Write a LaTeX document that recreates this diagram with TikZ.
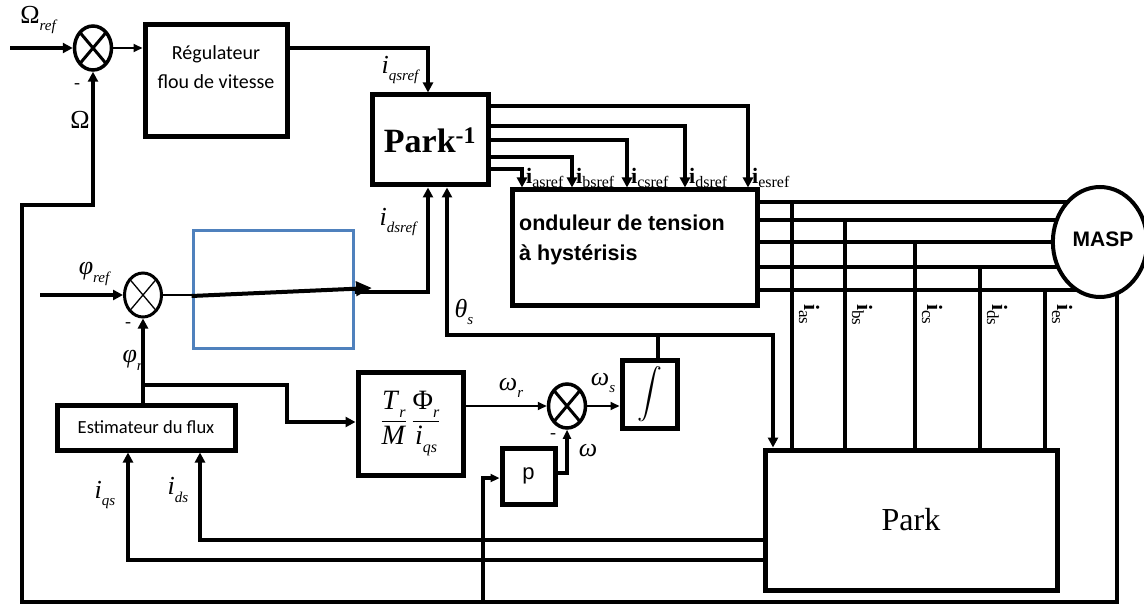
\documentclass[tikz,border=0pt]{standalone}
\usepackage{amsmath}
\usepackage{fontspec}
\setmainfont{Liberation Serif}
\newfontfamily\arialf{Liberation Sans}
\newfontfamily\calf{Carlito}
\usetikzlibrary{arrows.meta,shapes.geometric,backgrounds}
\definecolor{bluebox}{RGB}{79,129,189}
\newcommand\fs[1]{\fontsize{#1}{#1}\selectfont}
\newcommand\lab[2]{\textit{#1}\raisebox{-0.3em}{\fs{15}\itshape #2}}
\newcommand\refi[1]{\textbf{i}\raisebox{-0.22em}{\fs{16}#1}}
\begin{document}
\begin{tikzpicture}[x=1pt,y=-1pt,
  thk/.style={line width=4pt},
  thn/.style={line width=2pt},
  tip/.style={-{Triangle[length=10pt,width=10pt]}},
  stip/.style={-{Triangle[length=9pt,width=8pt]}},
  blk/.style={draw,line width=5pt,inner sep=0pt,align=center},
  sumA/.style={ellipse,draw,line width=3.5pt,minimum width=37pt,minimum height=44pt,inner sep=0pt,
    path picture={\draw[line width=3pt] (path picture bounding box.north west)--(path picture bounding box.south east)
      (path picture bounding box.north east)--(path picture bounding box.south west);}},
  sumB/.style={ellipse,draw,line width=3pt,minimum width=37pt,minimum height=44pt,inner sep=0pt,
    path picture={\draw[line width=1.3pt] (path picture bounding box.north west)--(path picture bounding box.south east)
      (path picture bounding box.north east)--(path picture bounding box.south west);}},
  lbl/.style={font=\fs{26},inner sep=0pt},
  minuslbl/.style={font=\fs{18},inner sep=0pt},
]
\useasboundingbox (0,0) rectangle (1144,607);

% ---------- blocks ----------
\node[sumA] (s1) at (93,48) {};
\node[blk,minimum width=142pt,minimum height=112pt] (reg) at (216,81) {};
\node[font=\calf\fontsize{20}{29}\selectfont,align=center,inner sep=0pt] (regtxt) at (216,67) {Régulateur\\flou de vitesse};
\node[blk,minimum width=116pt,minimum height=90pt,font=\fs{34}] (parkinv) at (430,140) {\textbf{Park}\textsuperscript{\textbf{-1}}};
\node[blk,minimum width=245pt,minimum height=115pt] (ond) at (634.5,247.5) {};
\node[font=\arialf\bfseries\fontsize{21.5}{30}\selectfont,align=left,anchor=north west,inner sep=0pt] (ondtxt) at (519,214.5) {onduleur de tension\\à hystérisis};
\node[ellipse,draw,line width=4pt,fill=white,minimum width=80pt,minimum height=110pt,inner sep=0pt,font=\arialf\bfseries\fs{21}] (masp) at (1100,242) {\raisebox{6pt}{\hspace{6pt}MASP}};
\node[draw=bluebox,line width=3pt,minimum width=160pt,minimum height=118pt,inner sep=0pt] (blue) at (273,289) {};
\node[sumB] (s2) at (143,295) {};
\node[blk,minimum width=178pt,minimum height=45pt,font=\calf\fs{18.5}] (est) at (146,427.5) {Estimateur du flux};
\node[blk,minimum width=105pt,minimum height=103pt,font=\fs{28}] (T) at (410.5,423.5)
  {$\displaystyle\frac{\hbox{\textit{T}\raisebox{-0.3em}{\fs{16}\itshape r}}}{\hbox{\textit{M}}}\,\frac{\hbox{Φ\raisebox{-0.3em}{\fs{16}\itshape r}}}{\hbox{\textit{i}\raisebox{-0.3em}{\fs{16}\itshape qs}}}$};
\node[sumA] (s3) at (567,406) {};
\node[blk,minimum width=55pt,minimum height=68pt,font=\fs{26}] (integ) at (649.5,394) {$\displaystyle\int$};
\node[blk,minimum width=53pt,minimum height=56pt,font=\arialf\fs{22}] (p) at (528.5,476) {p};
\node[blk,minimum width=292pt,minimum height=140pt,font=\fs{32}] (park) at (911,520) {Park};

% ---------- background wires (hidden behind MASP) ----------
\begin{scope}[on background layer]
  \foreach \y in {202,220,242,267,290}
    \draw[thk] (ond.east |- 0,\y) -- (masp.center |- 0,\y);
  \draw[thk,tip] (1117,270) -- (1117,602) -- (22,602) -- (22,205) -- (s1 |- 0,205) -- (s1.south);
\end{scope}

% ---------- speed loop ----------
\draw[thk,tip] (10,48) -- (s1.west);
\draw[thn,stip] (s1.east) -- (s1.east -| reg.west);
\draw[thk,tip] (s1 -| reg.east) -- (428,48) -- (428,0 |- parkinv.north);

% ---------- Park^-1 outputs ----------
\foreach \y/\x/\s in {169/522/as,157/572/bs,140/627/cs,126/685/ds,106/748/es}{
  \draw[thk,tip] (parkinv.east |- 0,\y) -- (\x,\y) -- (\x,0 |- ond.north);
  \node[anchor=base west,inner sep=0pt,font=\fs{22}] (lr\s) at (\x+4,183) {\refi{\s ref}};
}

% ---------- current taps ----------
\foreach \x/\y/\s in {792/202/as,845/220/bs,915/242/cs,980/267/ds,1045/290/es}{
  \draw[thk] (\x,\y) -- (\x,0 |- park.north);
  \node[rotate=-90,anchor=base west,inner sep=0pt,font=\fs{22}] (lt\s) at (\x+12,304) {\textbf{i}\raisebox{-0.22em}{\fs{17}\s}};
}

% ---------- flux loop ----------
\draw[thk,tip] (40,295) -- (s2.west);
\draw[thn] (s2.east) -- (s2.east -| blue.west);
\draw[line width=4pt,-{Triangle[length=16pt,width=14pt]}] (blue.west |- 0,296) -- (372,288);
\draw[thk,tip] (blue.east |- 0,292) -- (428,292) -- (428,0 |- parkinv.south);
\draw[thk,tip] (s2 |- est.north) -- (s2.south);
\draw[thk,tip] (s2 |- 0,385) -- (287,385) -- (287,422) -- (T.west |- 0,422);
\draw[thk,tip] (park.west |- 0,560) -- (128,560) -- (128,0 |- est.south);
\draw[thk,tip] (park.west |- 0,540) -- (200,540) -- (200,0 |- est.south);

% ---------- slip / angle ----------
\draw[thn,stip] (T.east |- s3) -- (s3.west);
\draw[thn,stip] (s3.east) -- (s3.east -| integ.west);
\draw[thk] (integ.north -| 658,0) -- (658,335);
\draw[thk,{Triangle[length=10pt,width=10pt]}-{Triangle[length=10pt,width=10pt]}]
  (447,0 |- parkinv.south) -- (447,335) -- (773,335) -- (773,0 |- park.north);
\draw[thk,stip] (p.east |- 0,473) -- (s3 |- 0,473) -- (s3.south);
\draw[thk,stip] (483,602) -- (483,478) -- (p.west |- 0,478);

% ---------- labels ----------
\node[lbl] (lOref) at (38,20) {Ω\raisebox{-0.3em}{\fs{15}\itshape ref}};
\node[minuslbl] (m1) at (77,86) {-};
\node[lbl] (lO) at (80,120) {Ω};
\node[lbl] (liq) at (400,70) {\lab{i}{qsref}};
\node[lbl] (lid) at (398,222) {\lab{i}{dsref}};
\node[lbl] (lth) at (464,312) {\lab{θ}{s}};
\node[lbl] (lpr) at (94,274) {\lab{φ}{ref}};
\node[minuslbl] (m2) at (128,325) {-};
\node[lbl,anchor=east] (lphr) at (143,360) {\lab{φ}{r}};
\node[lbl] (lwr) at (511,388) {\lab{ω}{r}};
\node[lbl] (lws) at (603,383) {\lab{ω}{s}};
\node[lbl] (lw) at (588,451) {\textit{ω}};
\node[minuslbl] (m3) at (553,436) {-};
\node[lbl] (liqs) at (105,495) {\lab{i}{qs}};
\node[lbl] (lids) at (178,490) {\lab{i}{ds}};
\end{tikzpicture}
\end{document}
